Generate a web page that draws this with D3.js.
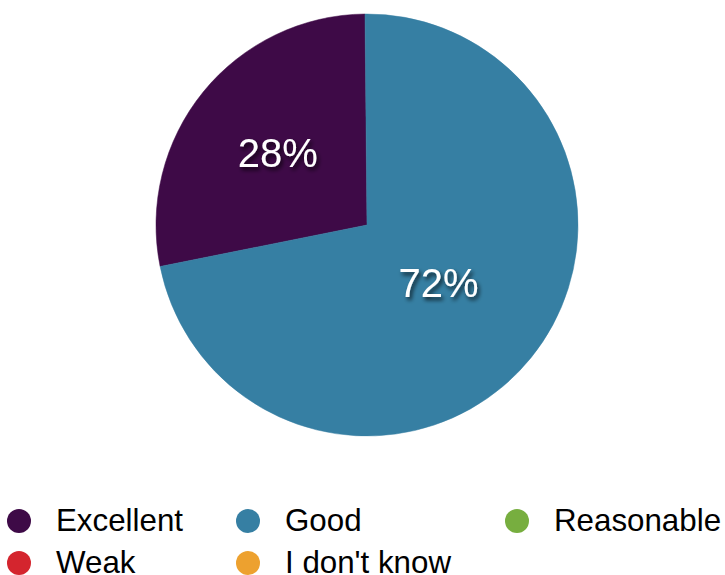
<!DOCTYPE html>
<html lang="en">
<head>
  <meta charset="UTF-8">
  <title>Pie</title>
  <script src="https://d3js.org/d3.v7.min.js"></script>
  <style>
    body { margin: 0; background: #fff; }
    svg { display: block; font-family: "Liberation Sans", Arial, sans-serif; }
  </style>
</head>
<body>
  <svg id="chart" width="725" height="575"></svg>
  <script>
    const categories = ["Excellent", "Good", "Reasonable", "Weak", "I don't know"];
    const values = [28, 72, 0, 0, 0];
    const colors = ["#3e0a47", "#367fa3", "#77ae3f", "#d4252e", "#eda12f"];
    // how far out each label sits, as a fraction of the radius
    const labelFrac = [0.545, 0.436, 0.5, 0.5, 0.5];

    const svg = d3.select("#chart");
    const cx = 367, cy = 225, radius = 211;

    const defs = svg.append("defs");
    const f = defs.append("filter").attr("id", "shadow")
      .attr("x", "-20%").attr("y", "-20%").attr("width", "150%").attr("height", "150%");
    f.append("feDropShadow").attr("dx", 2).attr("dy", 3).attr("stdDeviation", 2)
      .attr("flood-color", "#000").attr("flood-opacity", 0.75);

    const data = categories.map((c, i) => ({ name: c, value: values[i], color: colors[i], lf: labelFrac[i] }));

    const pie = d3.pie().sort(null).value(d => d.value)
      .startAngle(-Math.PI * 2 * 0.2815).endAngle(Math.PI * 2 * 0.7185);
    const arcs = pie(data).filter(a => a.data.value > 0);
    const arc = d3.arc().innerRadius(0).outerRadius(radius);

    const g = svg.append("g").attr("transform", `translate(${cx},${cy})`);
    g.selectAll("path").data(arcs).enter().append("path")
      .attr("d", arc)
      .attr("fill", d => d.data.color)
      .attr("stroke", d => d.data.color)
      .attr("stroke-width", 0.5);

    g.selectAll("text.lbl").data(arcs).enter().append("text")
      .attr("class", "lbl")
      .attr("transform", d => {
        const r = radius * d.data.lf;
        const a = (d.startAngle + d.endAngle) / 2;
        return `translate(${Math.sin(a) * r},${-Math.cos(a) * r})`;
      })
      .attr("text-anchor", "middle")
      .attr("dy", "0.36em")
      .attr("fill", "#fff")
      .attr("font-size", 40)
      .attr("filter", "url(#shadow)")
      .text(d => d.data.value + "%");

    // legend, 3 columns
    const colX = [19, 248, 517];
    const rowY = [521, 563];
    const legend = svg.append("g");
    const items = legend.selectAll("g").data(data).enter().append("g")
      .attr("transform", (d, i) => `translate(${colX[i % 3]},${rowY[Math.floor(i / 3)]})`);
    items.append("circle").attr("r", 12).attr("fill", d => d.color);
    items.append("text")
      .attr("x", 37)
      .attr("y", 10)
      .attr("font-size", 31.3)
      .attr("fill", "#000")
      .text(d => d.name);
  </script>
</body>
</html>
